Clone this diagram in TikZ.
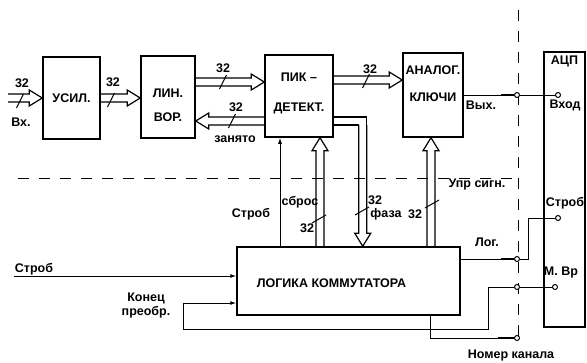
\documentclass[tikz,border=0pt]{standalone}
\usepackage{fontspec}
\setmainfont{Liberation Sans}
\usetikzlibrary{calc,positioning,arrows.meta}

\begin{document}
\begin{tikzpicture}[x=1pt,y=-1pt,
	every node/.style={font=\fontsize{12.5}{14}\selectfont\bfseries, inner sep=1pt},
	blk/.style={draw, line width=1.5pt, inner sep=0pt},
	wire/.style={line width=1pt},
	plug/.style={line width=2.6pt},
	term/.style={circle, draw, fill=white, line width=1pt, minimum size=5pt, inner sep=0pt},
	busline/.style={line width=1.2pt},
	bus/.style={busline, line join=miter, to path={let \p1=(\tikztostart), \p2=(\tikztotarget), \n1={atan2(\y2-\y1,\x2-\x1)} in
		($(\p1)+(\n1+90:4pt)$) -- ($(\p2)+(\n1:-13pt)+(\n1+90:4pt)$) -- ($(\p2)+(\n1:-13pt)+(\n1+90:8pt)$) -- (\p2)
		-- ($(\p2)+(\n1:-13pt)+(\n1-90:8pt)$) -- ($(\p2)+(\n1:-13pt)+(\n1-90:4pt)$) -- ($(\p1)+(\n1-90:4pt)$)}},
	hcut/.pic={\draw[wire] (-3.5,7) -- (3.5,-7);},
	vcut/.pic={\draw[wire] (-7,4) -- (7,-4);},
	sep/.style={line width=1pt, dash pattern=on 11pt off 10pt}]
	\useasboundingbox (0,0) rectangle (587,362);

	\node[blk, minimum width=57pt, minimum height=82pt] (usil) at (71.5,98) {УСИЛ.};
	\node[blk, minimum width=54pt, minimum height=82pt] (lin) at (168,97) {};
	\node[blk, minimum width=68pt, minimum height=82pt] (pik) at (299,96) {};
	\node[blk, minimum width=60pt, minimum height=84pt] (kl) at (433,95) {};
	\node[blk, minimum width=41pt, minimum height=275pt] (acp) at (564.5,189.5) {};
	\node[blk, minimum width=223pt, minimum height=68pt] (logic) at (348.5,281) {};
	\node[align=center] (lint) at ([yshift=-8pt]lin.center) {ЛИН.\\[10pt]ВОР.};
	\node[align=center] (pikt) at ([yshift=3pt]pik.center) {ПИК –\\[16pt]ДЕТЕКТ.};
	\node[align=center] (klt) at ([yshift=11pt]kl.center) {АНАЛОГ.\\[13pt]КЛЮЧИ};
	\node[below=3pt of acp.north] (acpt) {АЦП};
	\node (lgt) at ([xshift=-17pt,yshift=-2pt]logic.center) {ЛОГИКА КОММУТАТОРА};

	\draw[sep] (18,178) -- (518,178);
	\draw[sep] (518,10) -- (518,340);

	\node[term] (t1) at (517,95) {};
	\node[term] (t2) at (517,259) {};
	\node[term] (t3) at (517,287) {};
	\node[term] (t4) at (517,338) {};
	\node[term] (a1) at (558,95) {};
	\node[term] (a2) at (558,218) {};
	\node[term] (a3) at (555,287) {};

	\coordinate (in) at (8,98);
	\coordinate (b1) at ([yshift=15pt]lin.east);
	\coordinate (b2) at ([yshift=-24pt]lin.east);
	\coordinate (b3) at ([yshift=16pt]pik.east);
	\coordinate (sb) at ([xshift=-19pt]pik.south);
	\coordinate (sr) at ([xshift=21pt]pik.south);
	\coordinate (up) at ([xshift=-2pt]kl.south);
	\coordinate (fz) at ([yshift=-25pt]pik.east);
	\coordinate (fzk) at ([xshift=29pt,yshift=-4pt]fz);
	\coordinate (sin) at (14,276);
	\coordinate (kon) at ([yshift=-22pt]logic.west);
	\coordinate (kp) at (183,329);
	\coordinate (nk) at ([xshift=81.5pt]logic.south);

	\draw[bus] (in) to (usil.west);
	\draw[bus] (usil.east) to (usil.east -| lin.west);
	\draw[bus] (b1) to (b1 -| pik.west);
	\draw[bus] (b2 -| pik.west) to (b2);
	\draw[bus] (b3) to (b3 -| kl.west);
	\draw[bus] (sr |- logic.north) to (sr);
	\draw[bus] (up |- logic.north) to (up);
	\draw[busline] ([yshift=4pt]fz) -| ([xshift=4pt]fzk);
	\draw[busline] ([yshift=-4pt]fz) -- ([xshift=-4pt]fzk);
	\draw[bus] (fzk) to (fzk |- logic.north);

	\draw[wire, -{Latex[length=6pt,width=4pt]}] (sb |- logic.north) -- (sb);
	\draw[wire, -{Latex[length=6pt,width=4pt]}] (sin) -- (sin -| logic.west);
	\draw[wire, -{Latex[length=6pt,width=4pt]}] (a3) -- (t3) -- ++(-29,0) |- (kp) |- (kon);
	\draw[wire] (kl.east |- t1) -- (t1) -- (a1);
	\draw[wire] (logic.east |- t2) -- (t2) -- ++(11,0) |- (a2);
	\draw[wire] (nk) |- (t4);
	\draw[plug] ([xshift=-13pt]t1.west) -- (t1.west);
	\draw[plug] ([xshift=-13pt]t2.west) -- (t2.west);
	\draw[plug] ([xshift=-16pt]t4.west) -- (t4.west);

	\pic at (20,101) {hcut};
	\pic at (111,100) {hcut};
	\pic at (223,82) {hcut};
	\pic at (232,121) {hcut};
	\pic at (366,81) {hcut};
	\pic at (319,219) {vcut};
	\pic at (362,211) {vcut};
	\pic at (432,204) {vcut};

	\node (n1) at (22,83) {32};
	\node (n2) at (21,122) {Вх.};
	\node (n3) at (113,82) {32};
	\node (n4) at (223,68) {32};
	\node (n5) at (236,107) {32};
	\node (n6) at (235,139) {занято};
	\node (n7) at (370,69) {32};
	\node (n8) at (481,105) {Вых.};
	\node (n9) at (565,105) {Вход};
	\node (n10) at (251,214) {Строб};
	\node (n11) at (300,202) {сброс};
	\node (n12) at (307,228) {32};
	\node (n13) at (375,200) {32};
	\node (n14) at (386,214) {фаза};
	\node (n15) at (477,184) {Упр сигн.};
	\node (n16) at (415,214) {32};
	\node (n17) at (487,242) {Лог.};
	\node (n18) at (565,203) {Строб};
	\node (n19) at (561,272) {М. Вр};
	\node (n20) at (511,355) {Номер канала};
	\node (n21) at (34,269) {Строб};
	\node[align=center] (n22) at (146,305) {Конец\\преобр.};
\end{tikzpicture}
\end{document}
